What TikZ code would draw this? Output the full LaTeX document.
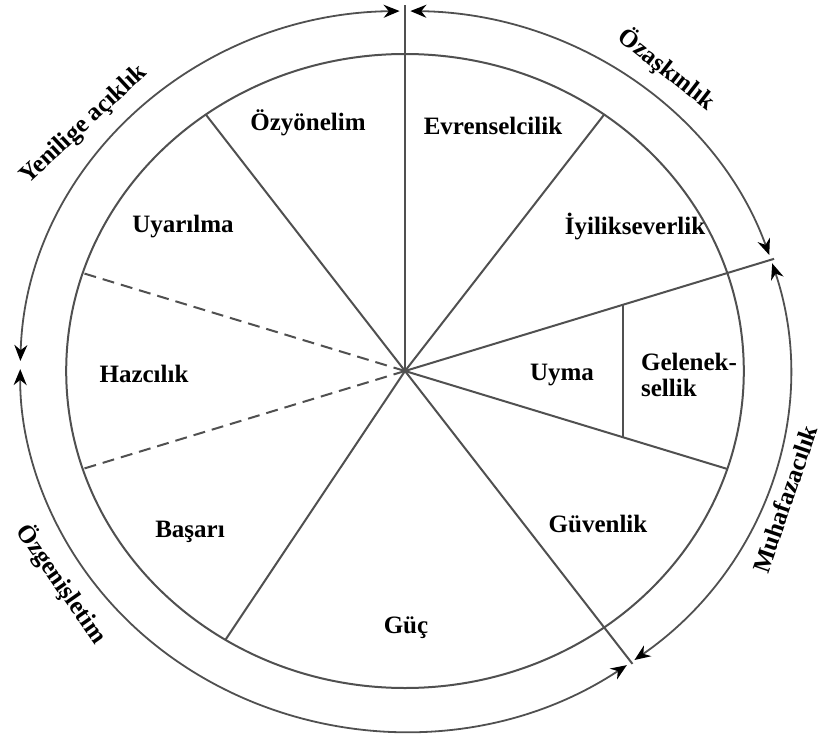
\documentclass[tikz,border=0pt]{standalone}
\usepackage{fontspec}
\setmainfont{Liberation Serif}
\usetikzlibrary{arrows.meta}
\definecolor{wheelgray}{RGB}{80,80,80}

\tikzset{
  spoke/.style={wheelgray, line width=1pt},
  dashspoke/.style={spoke, dash pattern=on 6pt off 3.5pt},
  sweep/.style={wheelgray, line width=0.9pt,
    {Stealth[length=8pt,width=6.5pt,black]}-{Stealth[length=8pt,width=6.5pt,black]}},
  val/.style={font=\fontsize{12.5}{13}\selectfont\bfseries, inner sep=0pt},
  grp/.style={val}
}

\begin{document}
\begin{tikzpicture}[x=0.5pt, y=-0.5pt]
  \useasboundingbox (0,0) rectangle (824,738);

  % --- wheel (ellipse units: radius 317 inner, 360 outer) ---
  \begin{scope}[shift={(405,371)}, x=0.5345pt, y=0.5pt]
    \coordinate (O) at (0,0);
    \draw[spoke] (O) ellipse [x radius=169.4pt, y radius=158.5pt];

    % --- spokes ---
    \foreach \a/\r [count=\i] in {90/366, 126/317, 54/317, 18/363,
                                  -18/317, -54/362, -122/317}{
      \coordinate (s\i) at (\a:\r);
      \draw[spoke] (O) -- (s\i);
    }
    \coordinate (d1) at (162:317);
    \coordinate (d2) at (198:317);
    \draw[dashspoke] (O) -- (d1);
    \draw[dashspoke] (O) -- (d2);

    % --- split of the conformity sector ---
    \coordinate (g1) at (18:214.4);
    \coordinate (g2) at (-18:214.4);
    \draw[spoke] (g1) -- (g2);

    % --- outer sweeps ---
    \coordinate (a1) at (89.2:360);
    \coordinate (a2) at (17.4:360);
    \coordinate (a3) at (-54.8:360);
    \coordinate (a4) at (90.8:360);
    \draw[sweep] (a1) arc[start angle=89.2, end angle=18.8,
      x radius=192.4pt, y radius=180pt];
    \draw[sweep] (a2) arc[start angle=17.4, end angle=-53.4,
      x radius=192.4pt, y radius=180pt];
    \draw[sweep] (a3) arc[start angle=-54.8, end angle=-180.3,
      x radius=192.4pt, y radius=180pt];
    \draw[sweep] (a4) arc[start angle=90.8, end angle=178.4,
      x radius=192.4pt, y radius=180pt];
  \end{scope}

  % --- value labels ---
  \node[val] (ozy) at (308,123) {Özyönelim};
  \node[val] (evr) at (493,126) {Evrenselcilik};
  \node[val] (uya) at (183,227) {Uyarılma};
  \node[val] (iyi) at (635,226) {İyilikseverlik};
  \node[val] (haz) at (144,374) {Hazcılık};
  \node[val] (uym) at (562,375) {Uyma};
  \node[val, align=left] (gel) at (689,375) {Gelenek-\\sellik};
  \node[val] (bas) at (190,532) {Başarı};
  \node[val] (guv) at (598,524) {Güvenlik};
  \node[val] (guc) at (406,628) {Güç};

  % --- group labels ---
  \node[grp, rotate=43] (yen) at (84,125) {Yenilige açıklık};
  \node[grp, rotate=-38] (oza) at (667,69) {Özaşkınlık};
  \node[grp, rotate=71] (muh) at (785,499) {Muhafazacılık};
  \node[grp, rotate=-55] (ozg) at (62,584) {Özgenişletim};

\end{tikzpicture}
\end{document}
